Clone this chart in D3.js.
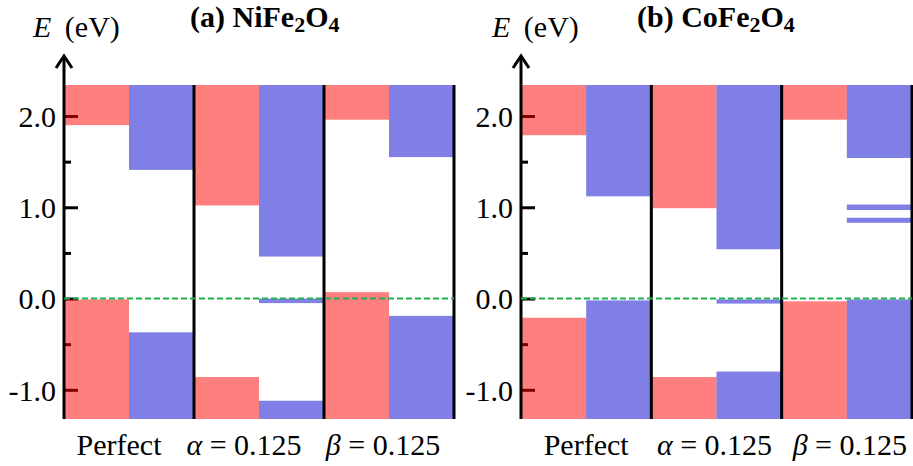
<!DOCTYPE html>
<html>
<head>
<meta charset="utf-8">
<script src="https://cdn.jsdelivr.net/npm/d3@7"></script>
<style>
  html, body { margin: 0; padding: 0; background: #fff; }
  svg { display: block; }
</style>
</head>
<body>
<svg id="chart" width="913" height="466"></svg>
<script>
// ---------------- data ----------------
const categories = ["Perfect", "α = 0.125", "β = 0.125"];
const spins = ["up", "down"];
const energyRange = [-1.32, 2.34];          // plotted energy window (eV)
const majorTicks = [-1.0, 0.0, 1.0, 2.0];
const minorTicks = [-0.5, 0.5, 1.5];
const tickFormat = d => d.toFixed(1);

// (a) NiFe2O4 : conduction-band minima and valence-band maxima
const niCBMinUp   = [1.90, 1.02, 1.96];
const niCBMinDown = [1.41, 0.46, 1.55];
const niVBMaxUp   = [-0.01, -0.86, 0.07];
const niVBMaxDown = [-0.37, -1.12, -0.19];
const niGapStates = [
  { cat: "α = 0.125", spin: "down", lo: -0.05, hi: 0.0 }
];

// (b) CoFe2O4
const coCBMinUp   = [1.79, 0.99, 1.96];
const coCBMinDown = [1.12, 0.54, 1.54];
const coVBMaxUp   = [-0.21, -0.86, -0.03];
const coVBMaxDown = [-0.02, -0.80, -0.01];
const coGapStates = [
  { cat: "α = 0.125", spin: "down", lo: -0.055, hi: -0.01 },
  { cat: "β = 0.125", spin: "down", lo: 0.97, hi: 1.03 },
  { cat: "β = 0.125", spin: "down", lo: 0.83, hi: 0.885 }
];

// ---------------- layout / style ----------------
const panels = [
  { label: "(a)", formula: [["NiFe",0],["2",1],["O",0],["4",1]], x0: 64, x1: 454, titleX: 190, yLabX: 33, labelShift: [-10, -15, -6],
    cbUp: niCBMinUp, cbDn: niCBMinDown, vbUp: niVBMaxUp, vbDn: niVBMaxDown, gap: niGapStates },
  { label: "(b)", formula: [["CoFe",0],["2",1],["O",0],["4",1]], x0: 521, x1: 912, titleX: 637, yLabX: 492, labelShift: [0, -2, 3],
    cbUp: coCBMinUp, cbDn: coCBMinDown, vbUp: coVBMaxUp, vbDn: coVBMaxDown, gap: coGapStates }
];
const plotTop = 85, plotBottom = 419;
const colors = { up: "rgba(255,0,0,0.5)", down: "rgba(0,0,205,0.5)" };
const serif = "'Liberation Serif', Tinos, 'Times New Roman', serif";
const fontSize = 30;

const svg = d3.select("#chart");
const y = d3.scaleLinear().domain(energyRange).range([plotBottom, plotTop]);

panels.forEach(p => {
  const g = svg.append("g");
  const x = d3.scaleBand().domain(categories).range([p.x0, p.x1]).padding(0);
  const xs = d3.scaleBand().domain(spins).range([0, x.bandwidth()]).padding(0);

  // ticks (drawn first so that bars tint them)
  const axMajor = d3.axisLeft(y).tickValues(majorTicks).tickSize(-14).tickPadding(8).tickFormat(tickFormat);
  const gMaj = g.append("g").attr("transform", `translate(${p.x0},0)`).call(axMajor);
  gMaj.select(".domain").remove();
  gMaj.selectAll(".tick line").attr("stroke", "#000").attr("stroke-width", 3);
  gMaj.selectAll(".tick text").style("font-family", serif).style("font-size", fontSize + "px")
    .attr("fill", "#000").attr("dy", "0.34em");
  const axMinor = d3.axisLeft(y).tickValues(minorTicks).tickSize(-7).tickFormat("");
  const gMin = g.append("g").attr("transform", `translate(${p.x0},0)`).call(axMinor);
  gMin.select(".domain").remove();
  gMin.selectAll(".tick line").attr("stroke", "#000").attr("stroke-width", 3);

  // band rectangles
  const bars = [];
  categories.forEach((c, i) => {
    bars.push({ cat: c, spin: "up",   lo: p.cbUp[i], hi: energyRange[1] });
    bars.push({ cat: c, spin: "down", lo: p.cbDn[i], hi: energyRange[1] });
    bars.push({ cat: c, spin: "up",   lo: energyRange[0], hi: p.vbUp[i] });
    bars.push({ cat: c, spin: "down", lo: energyRange[0], hi: p.vbDn[i] });
  });
  p.gap.forEach(s => bars.push(s));
  g.append("g").selectAll("rect").data(bars).join("rect")
    .attr("x", d => x(d.cat) + xs(d.spin))
    .attr("width", xs.bandwidth())
    .attr("y", d => y(d.hi))
    .attr("height", d => y(d.lo) - y(d.hi))
    .attr("fill", d => colors[d.spin]);

  // column dividers
  g.append("g").selectAll("line").data(categories).join("line")
    .attr("x1", d => x(d) + x.bandwidth()).attr("x2", d => x(d) + x.bandwidth())
    .attr("y1", plotTop).attr("y2", plotBottom)
    .attr("stroke", "#000").attr("stroke-width", 3);

  // energy axis with arrow
  g.append("line").attr("x1", p.x0).attr("x2", p.x0).attr("y1", 57).attr("y2", plotBottom)
    .attr("stroke", "#000").attr("stroke-width", 3);
  g.append("path").attr("d", `M${p.x0 - 8},68 L${p.x0},56 L${p.x0 + 8},68`)
    .attr("fill", "none").attr("stroke", "#000").attr("stroke-width", 3)
    .attr("stroke-linejoin", "miter");

  // Fermi level
  g.append("line").attr("x1", p.x0).attr("x2", p.x1).attr("y1", y(0)).attr("y2", y(0))
    .attr("stroke", "#1db250").attr("stroke-width", 2).attr("stroke-dasharray", "6,3");

  // category labels
  g.append("g").selectAll("text").data(categories).join("text")
    .attr("x", (d, i) => x(d) + x.bandwidth() / 2 + p.labelShift[i])
    .attr("y", 455)
    .attr("text-anchor", "middle")
    .style("font-family", serif).style("font-size", fontSize + "px")
    .each(function(d) {
      const t = d3.select(this);
      if (/^[αβ]/.test(d)) {
        t.append("tspan").style("font-style", "italic").text(d[0]);
        t.append("tspan").text(d.slice(1));
      } else {
        t.text(d);
      }
    });

  // y label
  const yl = g.append("text").attr("x", p.yLabX).attr("y", 37)
    .style("font-family", serif).style("font-size", fontSize + "px");
  yl.append("tspan").style("font-style", "italic").text("E");
  yl.append("tspan").attr("dx", 6).text("\u00a0(eV)");

  // title
  const tt = g.append("text").attr("x", p.titleX).attr("y", 27)
    .style("font-family", serif).style("font-size", fontSize + "px").style("font-weight", "bold");
  tt.append("tspan").text(p.label + " ");
  let shifted = false;
  p.formula.forEach(([s, sub]) => {
    const ts = tt.append("tspan").text(s);
    if (sub) { ts.style("font-size", "22px").attr("dy", 5); shifted = true; }
    else if (shifted) { ts.attr("dy", -5); shifted = false; }
  });
});
</script>
</body>
</html>
